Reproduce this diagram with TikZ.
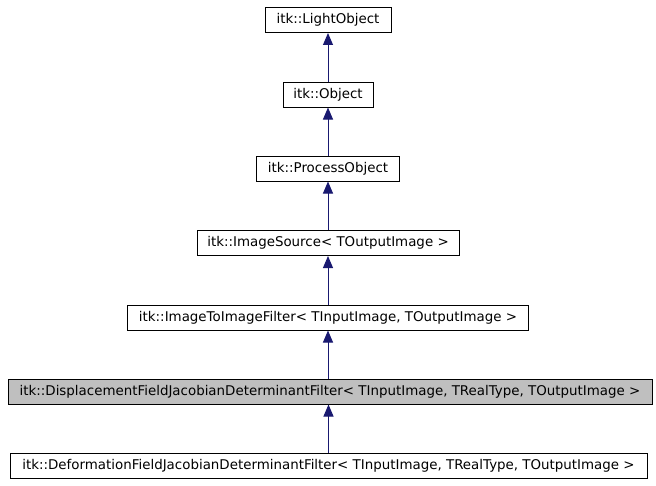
\documentclass[tikz,border=0pt]{standalone}
\usepackage{fontspec}
\setmainfont{DejaVu Sans}
\usetikzlibrary{arrows.meta}

\definecolor{edgeblue}{HTML}{191970}
\definecolor{selgray}{HTML}{BFBFBF}

\begin{document}
\begin{tikzpicture}[
        x=0.75pt, y=-0.75pt,
        cls/.style={rectangle, draw=black, line width=0.75pt, fill=white,
                    minimum height=18.75pt, inner sep=0pt,
                    align=center, font=\fontsize{10.05}{12}\selectfont},
        current/.style={cls, fill=selgray},
        inherit/.style={-{Triangle[length=9pt, width=7.5pt]}, color=edgeblue,
                    line width=0.75pt},
    ]
    \useasboundingbox (0,0) rectangle (656,485);

    % base classes (top)
    \node[cls, minimum width=94.5pt] (light) at (328, 20) {itk::LightObject};
    \node[cls, minimum width=67.5pt] (object) at (328, 94.5) {itk::Object};
    \node[cls, minimum width=107pt] (process) at (328, 168.5) {itk::ProcessObject};

    % templated filters
    \node[cls, minimum width=196.5pt] (source) at (328, 243)
        {itk::ImageSource< TOutputImage >};
    \node[cls, minimum width=300.75pt] (imgtoimg) at (328, 317.5)
        {itk::ImageToImageFilter< TInputImage, TOutputImage >};

    % displacement field filter (this class)
    \node[current, minimum width=483pt] (displ) at (330, 391.5)
        {itk::DisplacementFieldJacobianDeterminantFilter< TInputImage, TRealType, TOutputImage >};

    % deformation field filter (derived)
    \node[cls, minimum width=477.75pt] (deform) at (328.5, 465.5)
        {itk::DeformationFieldJacobianDeterminantFilter< TInputImage, TRealType, TOutputImage >};

    % inheritance arrows
    \draw[inherit] (object.north) -- (light.south);
    \draw[inherit] (process.north) -- (object.south);
    \draw[inherit] (source.north) -- (process.south);
    \draw[inherit] (imgtoimg.north) -- (source.south);
    \draw[inherit] (displ.north -| imgtoimg.south) -- (imgtoimg.south);
    \draw[inherit] (deform.north) -- (deform.north |- displ.south);

\end{tikzpicture}
\end{document}
